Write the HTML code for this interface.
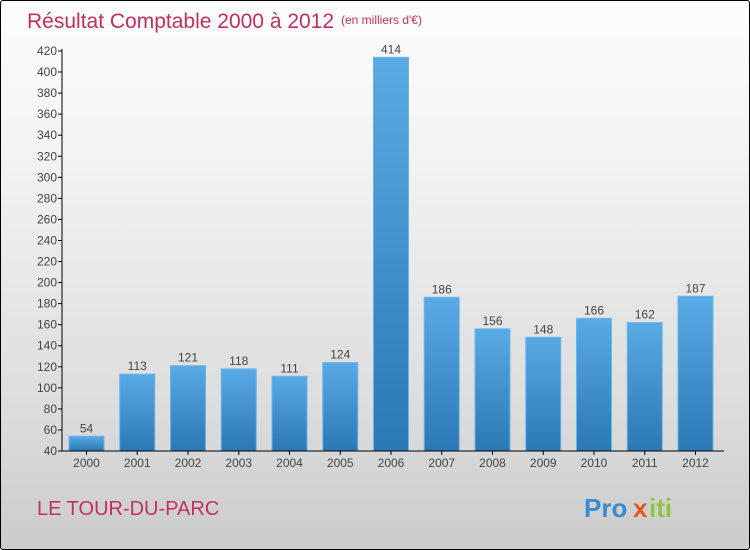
<!DOCTYPE html>
<html><head><meta charset="utf-8"><style>
body{margin:0;}
#wrap{position:relative;width:748px;height:548px;border:1px solid #000;border-radius:3px;background:linear-gradient(#fdfdfd,#f2f2f2 30%,#dcdcdc 75%,#cbcbcb);overflow:hidden;font-family:"Liberation Sans",sans-serif;}
svg{position:absolute;left:0;top:0}
</style></head><body>
<div id="wrap">
<svg width="750" height="550" id="chart">
<text x="26" y="27" font-size="21" fill="#c0305e">Résultat Comptable 2000 à 2012</text>
<text x="340" y="23" font-size="12" fill="#c0305e">(en milliers d'€)</text>
<text x="36" y="514" font-size="20" fill="#c0305e">LE TOUR-DU-PARC</text>
<g font-size="26" font-weight="bold">
<text x="583" y="516" fill="#3a8ad4">Pro</text><text x="632" y="516" fill="#e05a1c">x</text><text x="648" y="516" fill="#8cc63e">iti</text>
</g>
<defs><linearGradient id="bg" x1="0" y1="0" x2="0" y2="1"><stop offset="0" stop-color="#5aaae6"/><stop offset="1" stop-color="#2a78b4"/></linearGradient></defs>
<g id="plot"></g>
</svg>
</div>
<script>
const years=["2000","2001","2002","2003","2004","2005","2006","2007","2008","2009","2010","2011","2012"];
const values=[54,113,121,118,111,124,414,186,156,148,166,162,187];
const yTicks=[40,60,80,100,120,140,160,180,200,220,240,260,280,300,320,340,360,380,400,420];
const NS="http://www.w3.org/2000/svg";
const g=document.getElementById('plot');
const x0=61,step=50.75,bw=35,off=7;
function y(v){return 450-(v-40)*(400/380);}
function mk(t,a){const e=document.createElementNS(NS,t);for(const k in a)e.setAttribute(k,a[k]);g.appendChild(e);return e;}
yTicks.forEach(v=>{
 const l=mk('line',{x1:57,x2:61,y1:y(v),y2:y(v),stroke:'#000'});
 
 
 const t=mk('text',{x:56,y:y(v)+4,'text-anchor':'end','font-size':12,fill:'#444'});
 t.textContent=v;
 
 
});
years.forEach((yr,i)=>{
 const bx=x0+i*step+off,top=y(values[i]);
 const r=mk('rect',{x:bx,y:top,width:bw,height:450-top,fill:'url(#bg)',stroke:'#6ab4ec','stroke-width':1});
 
 
 const vt=mk('text',{x:bx+bw/2,y:top-4,'text-anchor':'middle','font-size':12,fill:'#444'});
 vt.textContent=values[i];
 
 
 const xt=mk('text',{x:bx+bw/2,y:466,'text-anchor':'middle','font-size':12,fill:'#444'});
 xt.textContent=yr;
 
 
 const tk=mk('line',{x1:bx+bw/2,x2:bx+bw/2,y1:450,y2:454,stroke:'#000'});
 
 
});
const ya=mk('line',{x1:61,x2:61,y1:48,y2:450,stroke:'#000'});


const xa=mk('line',{x1:61,x2:723,y1:450,y2:450,stroke:'#000'});


</script>
</body></html>
